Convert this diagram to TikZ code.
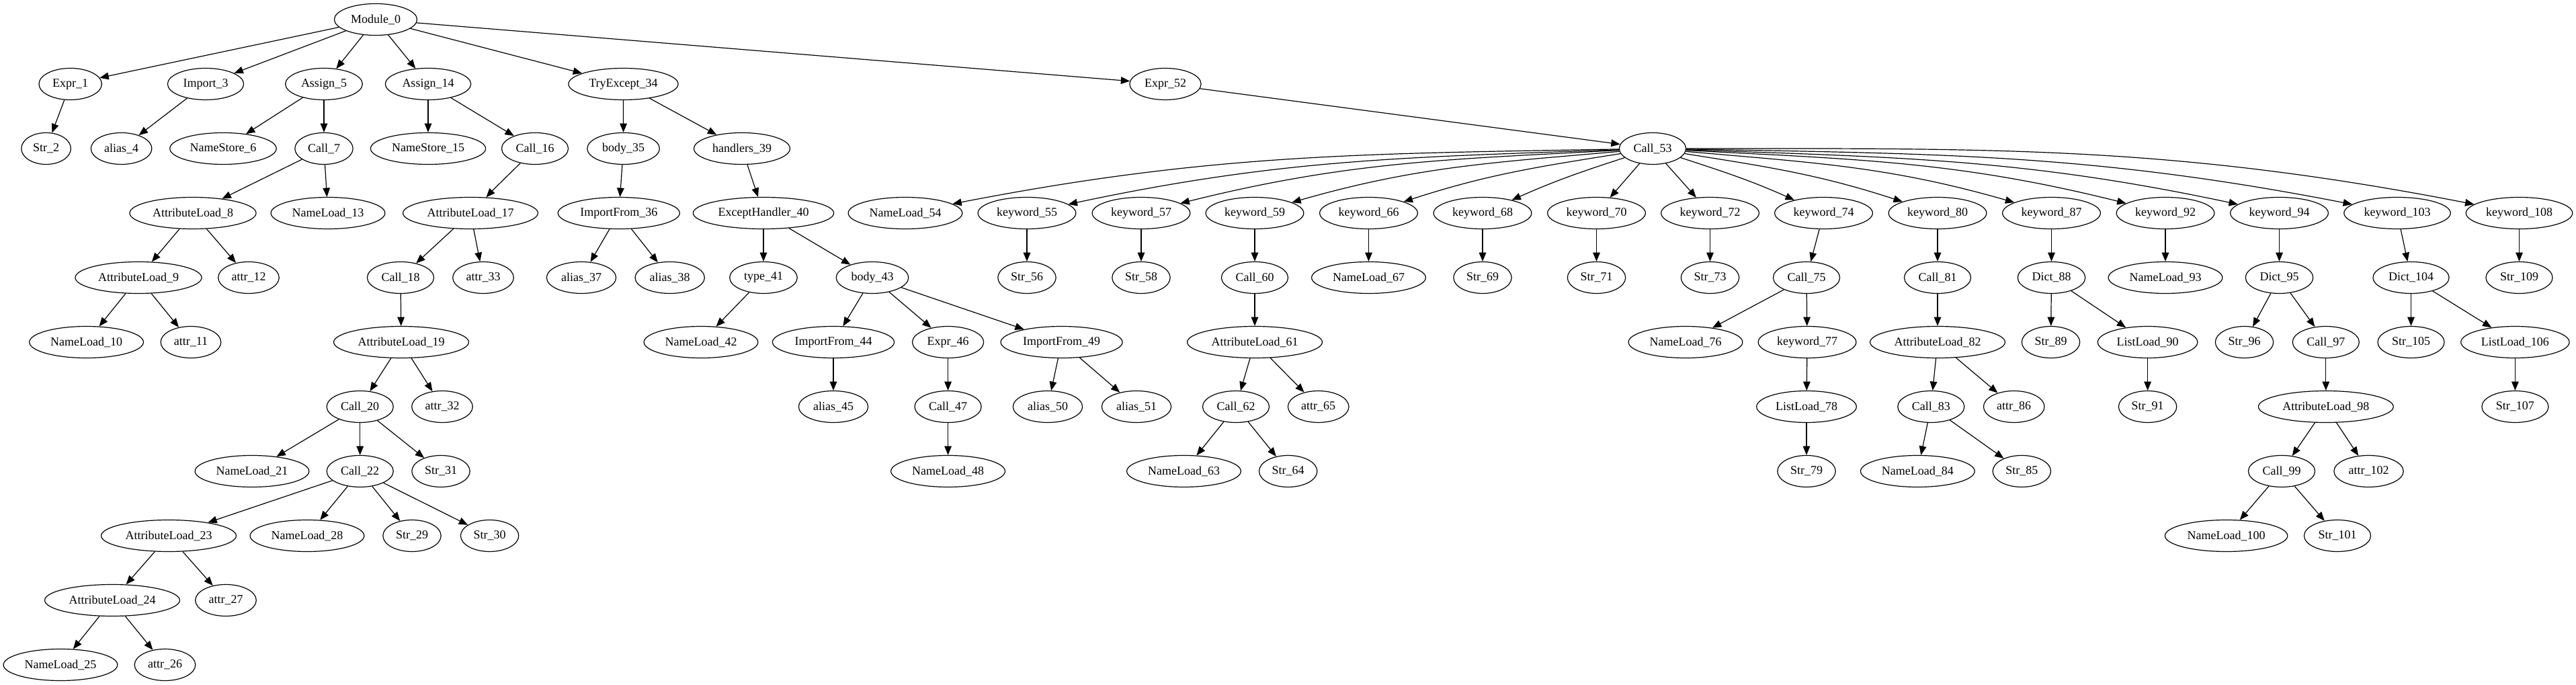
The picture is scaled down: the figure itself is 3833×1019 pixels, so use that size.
\documentclass[tikz,border=0pt]{standalone}
\usepackage{fontspec}
\setmainfont{Liberation Serif}
\usetikzlibrary{arrows.meta,shapes.geometric}
\begin{document}
\begin{tikzpicture}[x=0.75pt,y=-0.75pt,
  nd/.style={draw, ellipse, line width=0.9pt, inner xsep=4.9pt, inner ysep=1pt,
    minimum height=35.25pt, minimum width=53pt, font=\fontsize{13.5}{15}\selectfont},
  edg/.style={draw, line width=0.9pt, -{Triangle[length=10pt,width=8pt]}}]
\useasboundingbox (0,0) rectangle (3833,1019);
% level 0
\node[nd] (m0) at (559,29) {Module\_0};
% level 1
\node[nd] (e1) at (104.7,125) {Expr\_1};
\node[nd] (i3) at (306,125) {Import\_3};
\node[nd] (a5) at (482,125) {Assign\_5};
\node[nd] (a14) at (637,125) {Assign\_14};
\node[nd] (t34) at (927.5,125) {TryExcept\_34};
\node[nd] (e52) at (1734,125) {Expr\_52};
% level 2
\node[nd] (s2) at (68.6,221) {Str\_2};
\node[nd] (al4) at (180.6,221) {alias\_4};
\node[nd] (ns6) at (332,221) {NameStore\_6};
\node[nd] (c7) at (482,221) {Call\_7};
\node[nd] (ns15) at (637,221) {NameStore\_15};
\node[nd] (c16) at (796,221) {Call\_16};
\node[nd] (b35) at (927.6,221) {body\_35};
\node[nd] (h39) at (1104,221) {handlers\_39};
\node[nd] (c53) at (2459,221) {Call\_53};
% level 3
\node[nd] (at8) at (287,317) {AttributeLoad\_8};
\node[nd] (nl13) at (488,317) {NameLoad\_13};
\node[nd] (at17) at (700,317) {AttributeLoad\_17};
\node[nd] (if36) at (920.8,317) {ImportFrom\_36};
\node[nd] (eh40) at (1136,317) {ExceptHandler\_40};
\node[nd] (nl54) at (1347,317) {NameLoad\_54};
\node[nd] (k55) at (1528,317) {keyword\_55};
\node[nd] (k57) at (1698,317) {keyword\_57};
\node[nd] (k59) at (1867,317) {keyword\_59};
\node[nd] (k66) at (2036.5,317) {keyword\_66};
\node[nd] (k68) at (2206,317) {keyword\_68};
\node[nd] (k70) at (2375.5,317) {keyword\_70};
\node[nd] (k72) at (2544.5,317) {keyword\_72};
\node[nd] (k74) at (2713.5,317) {keyword\_74};
\node[nd] (k80) at (2883,317) {keyword\_80};
\node[nd] (k87) at (3052.5,317) {keyword\_87};
\node[nd] (k92) at (3222,317) {keyword\_92};
\node[nd] (k94) at (3391.5,317) {keyword\_94};
\node[nd] (k103) at (3567,317) {keyword\_103};
\node[nd] (k108) at (3748.5,317) {keyword\_108};
% level 4
\node[nd] (at9) at (206,413) {AttributeLoad\_9};
\node[nd] (attr12) at (370,413) {attr\_12};
\node[nd] (c18) at (596,413) {Call\_18};
\node[nd] (attr33) at (719,413) {attr\_33};
\node[nd] (al37) at (865,413) {alias\_37};
\node[nd] (al38) at (996.7,413) {alias\_38};
\node[nd] (ty41) at (1136,413) {type\_41};
\node[nd] (b43) at (1298,413) {body\_43};
\node[nd] (s56) at (1528,413) {Str\_56};
\node[nd] (s58) at (1698,413) {Str\_58};
\node[nd] (c60) at (1867,413) {Call\_60};
\node[nd] (nl67) at (2036.5,413) {NameLoad\_67};
\node[nd] (s69) at (2206,413) {Str\_69};
\node[nd] (s71) at (2375.5,413) {Str\_71};
\node[nd] (s73) at (2544.5,413) {Str\_73};
\node[nd] (c75) at (2688,413) {Call\_75};
\node[nd] (c81) at (2883,413) {Call\_81};
\node[nd] (d88) at (3052.5,413) {Dict\_88};
\node[nd] (nl93) at (3222,413) {NameLoad\_93};
\node[nd] (d95) at (3391.5,413) {Dict\_95};
\node[nd] (d104) at (3587.5,413) {Dict\_104};
\node[nd] (s109) at (3748.5,413) {Str\_109};
% level 5
\node[nd] (nl10) at (128.6,509) {NameLoad\_10};
\node[nd] (attr11) at (284,509) {attr\_11};
\node[nd] (at19) at (597,509) {AttributeLoad\_19};
\node[nd] (nl42) at (1043,509) {NameLoad\_42};
\node[nd] (if44) at (1240,509) {ImportFrom\_44};
\node[nd] (e46) at (1410.6,509) {Expr\_46};
\node[nd] (if49) at (1579.6,509) {ImportFrom\_49};
\node[nd] (at61) at (1867,509) {AttributeLoad\_61};
\node[nd] (nl76) at (2508,509) {NameLoad\_76};
\node[nd] (k77) at (2689,509) {keyword\_77};
\node[nd] (at82) at (2883,509) {AttributeLoad\_82};
\node[nd] (s89) at (3051.5,509) {Str\_89};
\node[nd] (ll90) at (3195.6,509) {ListLoad\_90};
\node[nd] (s96) at (3339.5,509) {Str\_96};
\node[nd] (c97) at (3460.8,509) {Call\_97};
\node[nd] (s105) at (3587.5,509) {Str\_105};
\node[nd] (ll106) at (3742.4,509) {ListLoad\_106};
% level 6
\node[nd] (c20) at (535.7,605) {Call\_20};
\node[nd] (attr32) at (658,605) {attr\_32};
\node[nd] (al45) at (1240,605) {alias\_45};
\node[nd] (c47) at (1410.6,605) {Call\_47};
\node[nd] (al50) at (1559,605) {alias\_50};
\node[nd] (al51) at (1691,605) {alias\_51};
\node[nd] (c62) at (1839,605) {Call\_62};
\node[nd] (attr65) at (1961.7,605) {attr\_65};
\node[nd] (ll78) at (2688,605) {ListLoad\_78};
\node[nd] (c83) at (2873.3,605) {Call\_83};
\node[nd] (attr86) at (2996.7,605) {attr\_86};
\node[nd] (s91) at (3195.6,605) {Str\_91};
\node[nd] (at98) at (3460.8,605) {AttributeLoad\_98};
\node[nd] (s107) at (3742.4,605) {Str\_107};
% level 7
\node[nd] (nl21) at (375,701) {NameLoad\_21};
\node[nd] (c22) at (535.7,701) {Call\_22};
\node[nd] (s31) at (656,701) {Str\_31};
\node[nd] (nl48) at (1410.6,701) {NameLoad\_48};
\node[nd] (nl63) at (1761.5,701) {NameLoad\_63};
\node[nd] (s64) at (1916.7,701) {Str\_64};
\node[nd] (s79) at (2688,701) {Str\_79};
\node[nd] (nl84) at (2853.3,701) {NameLoad\_84};
\node[nd] (s85) at (3008.3,701) {Str\_85};
\node[nd] (c99) at (3395,701) {Call\_99};
\node[nd] (attr102) at (3524.5,701) {attr\_102};
% level 8
\node[nd] (at23) at (251,797) {AttributeLoad\_23};
\node[nd] (nl28) at (457,797) {NameLoad\_28};
\node[nd] (s29) at (613,797) {Str\_29};
\node[nd] (s30) at (728.6,797) {Str\_30};
\node[nd] (nl100) at (3312.6,797) {NameLoad\_100};
\node[nd] (s101) at (3478,797) {Str\_101};
% level 9
\node[nd] (at24) at (167,893) {AttributeLoad\_24};
\node[nd] (attr27) at (336,893) {attr\_27};
% level 10
\node[nd] (nl25) at (90,989) {NameLoad\_25};
\node[nd] (attr26) at (245.5,989) {attr\_26};
% straight edges
\foreach \a/\b in {m0/e1,m0/i3,m0/a5,m0/a14,m0/t34,m0/e52,
  e1/s2,i3/al4,a5/ns6,a5/c7,a14/ns15,a14/c16,t34/b35,t34/h39,e52/c53,
  c7/at8,c7/nl13,c16/at17,b35/if36,h39/eh40,
  at8/at9,at8/attr12,at17/c18,at17/attr33,if36/al37,if36/al38,eh40/ty41,eh40/b43,
  at9/nl10,at9/attr11,c18/at19,ty41/nl42,b43/if44,b43/e46,b43/if49,
  at19/c20,at19/attr32,if44/al45,e46/c47,if49/al50,if49/al51,
  c20/nl21,c20/c22,c20/s31,c47/nl48,
  c22/at23,c22/nl28,c22/s29,c22/s30,at23/at24,at23/attr27,at24/nl25,at24/attr26,
  c53/k70,c53/k72,
  k55/s56,k57/s58,k59/c60,c60/at61,at61/c62,at61/attr65,c62/nl63,c62/s64,
  k66/nl67,k68/s69,k70/s71,k72/s73,k74/c75,c75/nl76,c75/k77,k77/ll78,ll78/s79,
  k80/c81,c81/at82,at82/c83,at82/attr86,c83/nl84,c83/s85,
  k87/d88,d88/s89,d88/ll90,ll90/s91,k92/nl93,
  k94/d95,d95/s96,d95/c97,c97/at98,at98/c99,at98/attr102,c99/nl100,c99/s101,
  k103/d104,d104/s105,d104/ll106,ll106/s107,k108/s109}
  {\draw[edg] (\a) -- (\b);}
% curved edges from Call_53
\draw[edg] (c53) to[out=181,in=11] (nl54);
\draw[edg] (c53) to[out=182,in=12] (k55);
\draw[edg] (c53) to[out=183,in=14] (k57);
\draw[edg] (c53) to[out=185,in=16] (k59);
\draw[edg] (c53) to[out=189,in=18] (k66);
\draw[edg] (c53) to[out=198,in=24] (k68);
\draw[edg] (c53) to[out=-18,in=156] (k74);
\draw[edg] (c53) to[out=-9,in=162] (k80);
\draw[edg] (c53) to[out=-5,in=164] (k87);
\draw[edg] (c53) to[out=-3,in=166] (k92);
\draw[edg] (c53) to[out=-2,in=168] (k94);
\draw[edg] (c53) to[out=-1,in=169] (k103);
\draw[edg] (c53) to[out=0,in=169] (k108);
\end{tikzpicture}
\end{document}
